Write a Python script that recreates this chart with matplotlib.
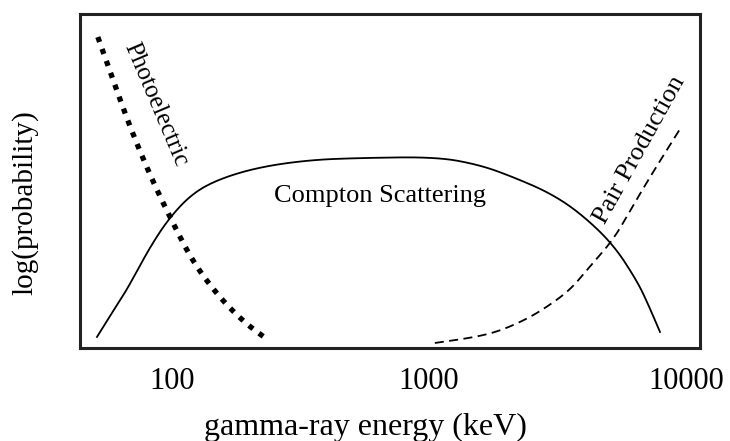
import numpy as np
import matplotlib
matplotlib.use("Agg")
import matplotlib.pyplot as plt

plt.rcParams['font.family'] = ['Liberation Serif', 'DejaVu Serif']

# curves (energy in keV, relative log probability 0..1)
photo_e = [51.5, 60.0, 68.7, 82.1, 98.2, 120.7, 153.7, 192.3, 236.6]
photo_p = [0.931, 0.787, 0.662, 0.518, 0.392, 0.257, 0.150, 0.075, 0.024]

compton_e = [51.1, 58.4, 66.8, 82.1, 98.2, 120.7, 153.7, 219.8, 344, 539, 1074,
             1578, 2123, 2958, 3873, 5200, 6444, 7112, 7918]
compton_p = [0.033, 0.105, 0.174, 0.302, 0.392, 0.464, 0.507, 0.542, 0.563, 0.569, 0.572,
             0.548, 0.512, 0.464, 0.404, 0.311, 0.201, 0.132, 0.048]

pair_e = [1054, 1446, 1841, 2365, 2879, 3540, 4119, 5200, 6050, 7047, 8279, 9640]
pair_p = [0.015, 0.030, 0.048, 0.084, 0.123, 0.174, 0.234, 0.323, 0.410, 0.497, 0.584, 0.665]

ticks = [100, 1000, 10000]
tick_labels = ['100', '1000', '10000']


def chaikin(xs, ys, n_iter=4):
    # corner cutting in (log x, y) so the polyline through the read points looks smooth
    pts = np.column_stack([np.log10(xs), ys])
    for _ in range(n_iter):
        q = 0.75 * pts[:-1] + 0.25 * pts[1:]
        r = 0.25 * pts[:-1] + 0.75 * pts[1:]
        mid = np.empty((2 * len(q), 2))
        mid[0::2] = q
        mid[1::2] = r
        pts = np.vstack([pts[:1], mid, pts[-1:]])
    return 10 ** pts[:, 0], pts[:, 1]


fig = plt.figure(figsize=(7.3, 4.41), dpi=100)
ax = fig.add_axes([0.1096, 0.2109, 0.8493, 0.7574])

x, y = chaikin(photo_e, photo_p)
ax.plot(x, y, color='black', lw=3.8, linestyle=(0, (1, 1.4)))
x, y = chaikin(compton_e, compton_p)
ax.plot(x, y, color='black', lw=1.3)
x, y = chaikin(pair_e, pair_p)
ax.plot(x, y, color='black', lw=1.3, linestyle=(0, (5, 3)))

ax.set_xscale('log')
ax.set_xlim(43.9, 11330)
ax.set_ylim(0, 1)
ax.set_xticks(ticks)
ax.set_xticklabels(tick_labels)
ax.xaxis.set_minor_locator(matplotlib.ticker.NullLocator())
ax.set_yticks([])
ax.tick_params(axis='x', length=0, pad=14, labelsize=22)

for s in ax.spines.values():
    s.set_linewidth(2.2)
    s.set_color('#222222')

ax.text(86.5, 0.728, 'Photoelectric', rotation=-67, ha='center', va='center', fontsize=18)
ax.text(644, 0.455, 'Compton Scattering', ha='center', va='center', fontsize=19)
ax.text(6620, 0.593, 'Pair Production', rotation=61, ha='center', va='center', fontsize=19)

ax.set_xlabel('gamma-ray energy (keV)', fontsize=23)
ax.xaxis.set_label_coords(0.461, -0.195)
ax.set_ylabel('log(probability)', fontsize=21)
ax.yaxis.set_label_coords(-0.067, 0.434)

fig.savefig('out.png', dpi=100)
